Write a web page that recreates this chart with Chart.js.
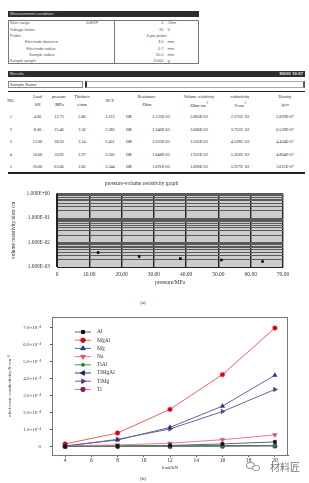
<!DOCTYPE html>
<html>
<head>
<meta charset="utf-8">
<script src="https://cdn.jsdelivr.net/npm/chart.js@4.4.0/dist/chart.umd.min.js"></script>
<style>
  body { margin: 0; background: #fff; }
  #page { position: relative; width: 309px; height: 483px; overflow: hidden; color: #222; font-family: "Liberation Sans", Arial, sans-serif; }
  .t { position: absolute; white-space: nowrap; line-height: 1; }
  .b { position: absolute; box-sizing: border-box; }
  canvas { position: absolute; left: 0; }
</style>
</head>
<body>
<div id="page">
  <canvas id="chartA" width="309" height="114" style="top:176px"></canvas>
  <canvas id="chartB" width="309" height="170" style="top:305px"></canvas>
</div>
<script>
// measurement results (5 runs)
const runs = [1, 2, 3, 4, 5];
const loads = [4, 8, 12, 16, 20];
const pressures = [12.73, 25.46, 38.20, 50.93, 63.66];
const thickness = [3.86, 3.56, 3.14, 2.97, 2.82];
const rcf = [3.212, 3.382, 3.451, 3.502, 3.544];
const resistance = [3.132e-3, 2.346e-3, 2.033e-3, 1.848e-3, 1.691e-3];
const volResistivity = [3.883e-3, 2.666e-3, 2.203e-3, 1.922e-3, 1.690e-3];
const conductivity = [2.575e2, 3.751e2, 4.539e2, 5.203e2, 5.917e2];
const density = [2.829e-7, 6.559e-7, 4.434e-7, 4.864e-7, 5.615e-7];

// measurement condition
const condLabels = ["Start range", "Voltage limiter", "Probe", "Electrode distance", "Electrode radius", "Sample radius", "Sample weight"];
const condValues = ["0", "10", "4-pin probe", "3.0", "0.7", "10.0", "3.000"];
const condUnits = ["Ohm", "V", "", "mm", "mm", "mm", "g"];

// chart (a) ticks
const pressTicks = [0, 10, 20, 30, 40, 50, 60, 70];
const resDecades = [-3, -2, -1, 0];

// chart (b): electronic conductivity in units of 1e-4 S/cm vs load/kN
const seriesNames = ["Al", "MgAl", "Mg", "Na", "TiAl", "TiMgAl", "TiMg", "Ti"];
const condAl = [0.00, 0.03, 0.06, 0.15, 0.27];
const condMgAl = [0.15, 0.79, 2.18, 4.22, 6.95];
const condMg = [0.04, 0.38, 1.12, 2.37, 4.18];
const condNa = [0.05, 0.09, 0.19, 0.40, 0.68];
const condTiAl = [0.00, 0.01, 0.02, 0.03, 0.05];
const condTiMgAl = [0.00, 0.01, 0.03, 0.05, 0.06];
const condTiMg = [0.01, 0.42, 1.03, 2.05, 3.35];
const condTi = [0.00, 0.00, 0.00, 0.01, 0.02];
const condTicks = [0, 1, 2, 3, 4, 5, 6, 7];
const loadTicks = [4, 6, 8, 10, 12, 14, 16, 18, 20];

const serif = '"Liberation Serif", "Times New Roman", serif';
const page = document.getElementById('page');

function put(x, y, s, o = {}) {
  const d = document.createElement('div');
  d.className = 't';
  if (o.html) d.innerHTML = s; else d.textContent = s;
  const tx = o.align === 'right' ? '-100%' : o.align === 'left' ? '0' : '-50%';
  d.style.left = x + 'px';
  d.style.top = y + 'px';
  d.style.transform = 'translate(' + tx + ',-50%)';
  d.style.fontSize = (o.size || 4.2) + 'px';
  if (o.font) d.style.fontFamily = o.font;
  if (o.color) d.style.color = o.color;
  if (o.bold) d.style.fontWeight = 'bold';
  page.appendChild(d);
}
function box(x, y, w, h, css) {
  const d = document.createElement('div');
  d.className = 'b';
  d.style.cssText = 'left:' + x + 'px;top:' + y + 'px;width:' + w + 'px;height:' + h + 'px;' + css;
  page.appendChild(d);
}
function fmtE(v) {
  const parts = v.toExponential(3).split('e');
  const n = parseInt(parts[1]);
  return parts[0] + 'E' + (n < 0 ? '-' : '+') + String(Math.abs(n)).padStart(2, '0');
}

// --- measurement condition block
box(8, 11, 191, 6, 'background:#2e2e2e');
put(10, 14, 'Measurement condition', { align: 'left', color: '#ddd', size: 4.2 });
box(8, 20, 191, 44, 'border:1px solid #777');
box(114, 20, 1, 44, 'background:#777');
const condX = [10, 10, 10, 25, 26.5, 29, 9.5];
condLabels.forEach((l, i) => {
  const y = 23.3 + i * 6.33;
  put(condX[i], y, l, { align: 'left', color: '#555', size: 4 });
  if (condUnits[i]) {
    put(163.5, y, condValues[i], { align: 'right', color: '#555', size: 4 });
    put(167.5, y, condUnits[i], { align: 'left', color: '#555', size: 4 });
  } else {
    put(156.5, y, condValues[i], { color: '#555', size: 4 });
  }
});
put(86, 23.3, '10EXP', { align: 'left', color: '#555', size: 4 });

// --- results block
box(8, 71, 297, 6, 'background:#2e2e2e');
put(10, 74, 'Results', { align: 'left', color: '#ddd', size: 4.2 });
put(303, 74, '9/6/01 10:57', { align: 'right', color: '#eee', size: 4.2, bold: true });
box(8, 81, 75, 7, 'border:1px solid #888');
put(10, 84.5, 'Sample Name', { align: 'left', color: '#444', size: 4.2 });
box(85, 81, 220, 7, 'border:1px solid #aaa;border-left:2px solid #333;border-right:2px solid #555');
box(8, 91, 297, 1, 'background:#222');
box(8, 172, 297, 1.5, 'background:#222');

const colX = [10.7, 37.5, 59, 82, 110, 129, 161, 199, 240, 285];
const head1 = ['NO.', 'Load', 'pressure', 'Thicknes', 'RCF', '', 'Resistance', 'Volume resistivity', 'coductivity', 'Density'];
const head2 = ['', '/kN', '/MPa', 's/mm', '', '', '/Ohm', '/Ohm·cm<sup style="font-size:3px">-1</sup>', '/S·cm<sup style="font-size:3px">-1</sup>', '/g/cc'];
head1.forEach((h, i) => {
  if (!h) return;
  const x = i === 6 ? 146.7 : colX[i];
  if (head2[i]) {
    put(x, 97, h, { font: serif });
    put(x, 104.5, head2[i], { font: serif, html: true });
  } else {
    put(x, 101, h, { font: serif });
  }
});
runs.forEach((r, i) => {
  const y = 117 + i * 12.6;
  const cells = [String(r), loads[i].toFixed(2), pressures[i].toFixed(2), thickness[i].toFixed(2), rcf[i].toFixed(3), 'OK',
    fmtE(resistance[i]), fmtE(volResistivity[i]), fmtE(conductivity[i]), fmtE(density[i])];
  cells.forEach((c, j) => put(colX[j], y, c, { font: serif }));
});

put(143, 301.7, '(a)', { font: serif, size: 5 });
put(143, 478, '(b)', { font: serif, size: 5 });

// watermark
box(246, 462, 9, 7, 'border:1px solid #999;border-radius:50%');
box(252, 465, 8, 6, 'border:1px solid #999;border-radius:50%;background:#fff');
put(285, 467, '材料匠', { font: '"Noto Sans CJK SC", sans-serif', size: 10, color: '#777' });

// --- chart (a): pressure vs volume resistivity
const areaBg = {
  id: 'areaBg',
  beforeDraw(chart) {
    const a = chart.chartArea, c = chart.ctx;
    c.save();
    c.fillStyle = '#cdcdcd';
    c.fillRect(a.left, a.top, a.right - a.left, a.bottom - a.top);
    c.restore();
  }
};
const resTicks = [];
resDecades.forEach(e => {
  const top = e === 0 ? 1 : 9;
  for (let m = 1; m <= top; m++) resTicks.push(+(m * Math.pow(10, e)).toPrecision(3));
});

new Chart(document.getElementById('chartA'), {
  type: 'scatter',
  data: {
    datasets: [{
      data: pressures.map((p, i) => ({ x: p, y: volResistivity[i] })),
      pointStyle: 'rect', pointRadius: 1.8, backgroundColor: '#000', borderColor: '#000', borderWidth: 0
    }]
  },
  options: {
    responsive: false, animation: false, devicePixelRatio: 1,
    layout: { padding: { left: 0, right: 26, top: 0, bottom: 0 } },
    plugins: {
      legend: { display: false }, tooltip: { enabled: false },
      title: { display: true, text: 'pressure-volume resistivity graph', color: '#333',
        font: { family: serif, size: 5.5, weight: 'normal' }, padding: { top: 4, bottom: 7 } }
    },
    scales: {
      x: {
        type: 'linear', min: 0, max: 70,
        afterBuildTicks: s => { s.ticks = pressTicks.map(v => ({ value: v })); },
        afterFit: s => { s.height = 23; },
        ticks: { callback: v => v === 0 ? '0' : v.toFixed(2), color: '#333', font: { family: serif, size: 5.5 }, maxRotation: 0, padding: 4 },
        grid: { color: '#222', lineWidth: 1.4, drawTicks: false },
        border: { color: '#222', width: 1 },
        title: { display: true, text: 'pressure/MPa', color: '#333', font: { family: serif, size: 5.5 }, padding: { top: 0, bottom: 4 } }
      },
      y: {
        type: 'logarithmic', min: 1e-3, max: 1,
        afterBuildTicks: s => { s.ticks = resTicks.map(v => ({ value: v })); },
        afterFit: s => { s.width = 57; },
        ticks: { autoSkip: false, callback: v => resDecades.some(e => Math.abs(v - Math.pow(10, e)) < 1e-9) ? fmtE(v) : '',
          color: '#333', font: { family: serif, size: 5.3 }, padding: 7 },
        grid: { color: '#5a5a5a', lineWidth: 1, drawTicks: false },
        border: { color: '#222', width: 1 },
        title: { display: true, text: 'volume resistivity/ohm·cm', color: '#333', font: { family: serif, size: 5.3 }, padding: { top: 10, bottom: 0 } }
      }
    }
  },
  plugins: [areaBg]
});

// --- chart (b): conductivity vs load
const styles = [
  { data: condAl, line: '#666', fill: '#111', pointStyle: 'rect', rotation: 0, r: 2.2 },
  { data: condMgAl, line: '#f0605a', fill: '#d9001b', pointStyle: 'circle', rotation: 0, r: 2.2 },
  { data: condMg, line: '#5a68a8', fill: '#1d3a8a', pointStyle: 'triangle', rotation: 0, r: 2.6 },
  { data: condNa, line: '#e27a98', fill: '#d9507a', pointStyle: 'triangle', rotation: 180, r: 2.6 },
  { data: condTiAl, line: '#3aa050', fill: '#1e8a3a', pointStyle: 'circle', rotation: 0, r: 1.5 },
  { data: condTiMgAl, line: '#3a3a7a', fill: '#1e1e5e', pointStyle: 'triangle', rotation: 270, r: 2.6 },
  { data: condTiMg, line: '#7a5a9a', fill: '#5a3a8a', pointStyle: 'triangle', rotation: 90, r: 2.6 },
  { data: condTi, line: '#d070a8', fill: '#7a1f6a', pointStyle: 'circle', rotation: 0, r: 2.2 }
];

const frameLegend = {
  id: 'frameLegend',
  afterDraw(chart) {
    const a = chart.chartArea, c = chart.ctx;
    c.save();
    c.strokeStyle = '#777';
    c.lineWidth = 1;
    c.strokeRect(a.left + 0.5, a.top + 0.5, a.right - a.left - 1, a.bottom - a.top);
    c.font = '5.5px ' + serif;
    c.textBaseline = 'middle';
    seriesNames.forEach((n, i) => {
      const st = styles[i];
      const y = 27 + i * 8.2;
      c.strokeStyle = st.line;
      c.lineWidth = 1;
      c.beginPath(); c.moveTo(75, y); c.lineTo(91, y); c.stroke();
      c.fillStyle = st.fill; c.strokeStyle = st.fill;
      Chart.helpers.drawPoint(c, { pointStyle: st.pointStyle, radius: st.r, rotation: st.rotation, borderWidth: 0.5 }, 83, y);
      c.fillStyle = '#333';
      c.fillText(n, 97, y);
    });
    c.restore();
  }
};

new Chart(document.getElementById('chartB'), {
  type: 'line',
  data: {
    datasets: seriesNames.map((n, i) => ({
      label: n,
      data: loads.map((l, k) => ({ x: l, y: styles[i].data[k] })),
      borderColor: styles[i].line, borderWidth: 1,
      pointStyle: styles[i].pointStyle, pointRotation: styles[i].rotation,
      pointRadius: styles[i].r, pointBackgroundColor: styles[i].fill, pointBorderColor: styles[i].fill, pointBorderWidth: 0.5,
      tension: 0
    }))
  },
  options: {
    responsive: false, animation: false, devicePixelRatio: 1,
    layout: { padding: { left: 0, right: 21, top: 9, bottom: 0 } },
    plugins: { legend: { display: false }, tooltip: { enabled: false } },
    scales: {
      x: {
        type: 'linear', min: 3, max: 21,
        afterBuildTicks: s => { s.ticks = loadTicks.map(v => ({ value: v })); },
        afterFit: s => { s.height = 20; },
        ticks: { color: '#333', font: { family: serif, size: 5.5 }, maxRotation: 0, padding: 0 },
        grid: { drawOnChartArea: false, tickLength: 2, color: '#555' },
        border: { color: '#555' },
        title: { display: true, text: 'load/kN', color: '#333', font: { family: serif, size: 5 }, padding: { top: 0, bottom: 4 } }
      },
      y: {
        type: 'linear', min: -0.5, max: 7.6,
        afterBuildTicks: s => { s.ticks = condTicks.map(v => ({ value: v })); },
        afterFit: s => { s.width = 52; },
        ticks: { callback: v => v === 0 ? '0' : v.toFixed(1) + '×10⁻⁴', color: '#333', font: { family: serif, size: 5 }, padding: 9 },
        grid: { drawOnChartArea: false, tickLength: 2, color: '#555' },
        border: { color: '#555' },
        title: { display: true, text: 'electronic conductivity/S·cm⁻¹', color: '#333', font: { family: serif, size: 5 }, padding: { top: 7, bottom: 0 } }
      }
    }
  },
  plugins: [frameLegend]
});
</script>
</body>
</html>
